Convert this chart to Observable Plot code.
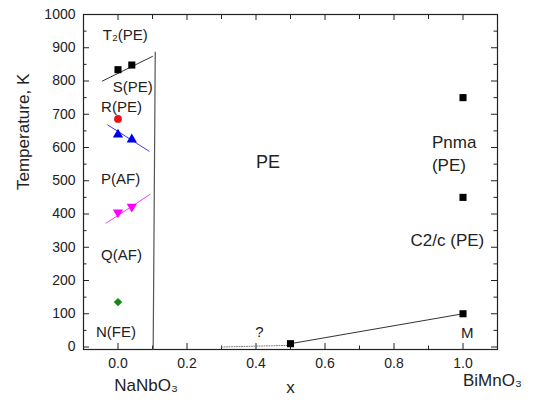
<!DOCTYPE html>
<html><head><meta charset="utf-8">
<script src="https://cdn.jsdelivr.net/npm/d3@7"></script>
<script src="https://cdn.jsdelivr.net/npm/@observablehq/plot@0.6"></script>
<style>body{margin:0;background:#fff} svg{display:block}</style>
</head><body><div id="chart"></div>
<script>
// ticks
const xTicks = [0, 0.2, 0.4, 0.6, 0.8, 1.0];
const xMinorTicks = [0.1, 0.3, 0.5, 0.7, 0.9];
const yTicks = [0, 100, 200, 300, 400, 500, 600, 700, 800, 900, 1000];
const yMinorTicks = [50, 150, 250, 350, 450, 550, 650, 750, 850, 950];

// data (x = BiMnO3 fraction, y = temperature K)
const sPE = [{x: 0, y: 834}, {x: 0.04, y: 848}];
const sPELine = [{x: -0.045, y: 800}, {x: 0.1, y: 874}];
const rPE = [{x: 0, y: 686}];
const pUp = [{x: 0, y: 639}, {x: 0.04, y: 624}];
const pUpLine = [{x: -0.03, y: 668}, {x: 0.09, y: 589}];
const qDown = [{x: 0, y: 405}, {x: 0.04, y: 422}];
const qDownLine = [{x: -0.035, y: 372}, {x: 0.093, y: 459}];
const nFE = [{x: 0, y: 135}];
const boundary = [{x: 0.102, y: -7}, {x: 0.108, y: 887}];
const bmo = [{x: 0.5, y: 10}, {x: 1, y: 100}, {x: 1, y: 450}, {x: 1, y: 750}];
const bmoLine = [{x: 0.5, y: 10}, {x: 1, y: 100}];
const bmoDotted = [{x: 0.3, y: 0}, {x: 0.5, y: 5}];

// phase labels (data coordinates)
const smallLabels = [
  {t: "T\u2082(PE)", x: -0.044, y: 937},
  {t: "S(PE)", x: -0.015, y: 781},
  {t: "R(PE)", x: -0.049, y: 721},
  {t: "P(AF)", x: -0.049, y: 504},
  {t: "Q(AF)", x: -0.049, y: 275},
  {t: "N(FE)", x: -0.064, y: 44}
];
const bigLabels = [
  {t: "Pnma", x: 0.91, y: 615},
  {t: "(PE)", x: 0.91, y: 546},
  {t: "C2/c (PE)", x: 0.848, y: 320}
];
const centerLabels = [
  {t: "PE", x: 0.435, y: 556}
];
const markLabels = [
  {t: "?", x: 0.41, y: 44},
  {t: "M", x: 1.012, y: 41}
];
const endLabels = [
  {t: "NaNbO\u2083", x: -0.011}
];
const endLabels2 = [
  {t: "BiMnO\u2083", x: 1.0}
];

const font = "'Liberation Sans', Arial, sans-serif";

const chart = Plot.plot({
  width: 533,
  height: 403,
  marginLeft: 83,
  marginRight: 36,
  marginTop: 14,
  marginBottom: 54,
  style: {fontFamily: font, fontSize: "14px", background: "#fff", color: "#222"},
  x: {domain: [-0.1, 1.1]},
  y: {domain: [-7.5, 1000]},
  marks: [
    // tick labels
    Plot.axisX(xTicks, {anchor: "bottom", tickSize: 0, tickPadding: 9, label: null, tickFormat: d => d.toFixed(1), fontSize: 14}),
    Plot.axisY(yTicks, {anchor: "left", tickSize: 0, tickPadding: 8, label: null, tickFormat: d => String(d), fontSize: 14}),
    // inward ticks
    Plot.tickX(xTicks, {x: d => d, insetTop: 329, stroke: "#222"}),
    Plot.tickX(xMinorTicks, {x: d => d, insetTop: 331.5, stroke: "#222"}),
    Plot.tickX(xTicks, {x: d => d, insetBottom: 329, stroke: "#222"}),
    Plot.tickX(xMinorTicks, {x: d => d, insetBottom: 330, stroke: "#222"}),
    Plot.tickY(yTicks, {y: d => d, insetRight: 408, stroke: "#222"}),
    Plot.tickY(yMinorTicks, {y: d => d, insetRight: 410.5, stroke: "#222"}),
    Plot.tickY(yTicks, {y: d => d, insetLeft: 408, stroke: "#222"}),
    Plot.tickY(yMinorTicks, {y: d => d, insetLeft: 410.5, stroke: "#222"}),
    Plot.frame({stroke: "#222", strokeWidth: 1.2}),
    // lines
    Plot.line(sPELine, {x: "x", y: "y", stroke: "#333", strokeWidth: 1}),
    Plot.line(pUpLine, {x: "x", y: "y", stroke: "#3b3bf0", strokeWidth: 1}),
    Plot.line(qDownLine, {x: "x", y: "y", stroke: "#f040f0", strokeWidth: 1}),
    Plot.line(boundary, {x: "x", y: "y", stroke: "#555", strokeWidth: 1.2}),
    Plot.line(bmoLine, {x: "x", y: "y", stroke: "#333", strokeWidth: 1}),
    Plot.line(bmoDotted, {x: "x", y: "y", stroke: "#777", strokeWidth: 1, strokeDasharray: "1,1.5"}),
    // markers
    Plot.dot(sPE, {x: "x", y: "y", symbol: "square", r: 4, fill: "#000", stroke: "none"}),
    Plot.dot(bmo, {x: "x", y: "y", symbol: "square", r: 4, fill: "#000", stroke: "none"}),
    Plot.dot(rPE, {x: "x", y: "y", symbol: "circle", r: 3.9, fill: "#ee1111", stroke: "none"}),
    Plot.dot(pUp, {x: "x", y: "y", symbol: "triangle", r: 3.8, fill: "#0000ee", stroke: "none"}),
    Plot.dot(qDown, {x: "x", y: "y", symbol: "triangle", r: 3.8, rotate: 180, fill: "#ff00ff", stroke: "none"}),
    Plot.dot(nFE, {x: "x", y: "y", symbol: "diamond2", r: 3.8, fill: "#108a10", stroke: "none"}),
    // labels
    Plot.text(smallLabels, {x: "x", y: "y", text: "t", textAnchor: "start", fontSize: 15, fill: "#222"}),
    Plot.text(bigLabels, {x: "x", y: "y", text: "t", textAnchor: "start", fontSize: 17, fill: "#222"}),
    Plot.text(centerLabels, {x: "x", y: "y", text: "t", fontSize: 18, fill: "#222"}),
    Plot.text(markLabels, {x: "x", y: "y", text: "t", fontSize: 15, fill: "#222"}),
    Plot.text(endLabels, {x: "x", text: "t", frameAnchor: "bottom", textAnchor: "start", dy: 41, fontSize: 17, fill: "#222"}),
    Plot.text(endLabels2, {x: "x", text: "t", frameAnchor: "bottom", textAnchor: "start", dy: 36, fontSize: 17, fill: "#222"}),
    Plot.text(["x"], {frameAnchor: "bottom", text: d => d, dy: 43, fontSize: 17, fill: "#222"}),
    Plot.text(["Temperature, K"], {frameAnchor: "left", text: d => d, rotate: -90, dx: -60, dy: 8, fontSize: 17, fill: "#222"})
  ]
});
document.getElementById("chart").appendChild(chart);
</script>
</body></html>
